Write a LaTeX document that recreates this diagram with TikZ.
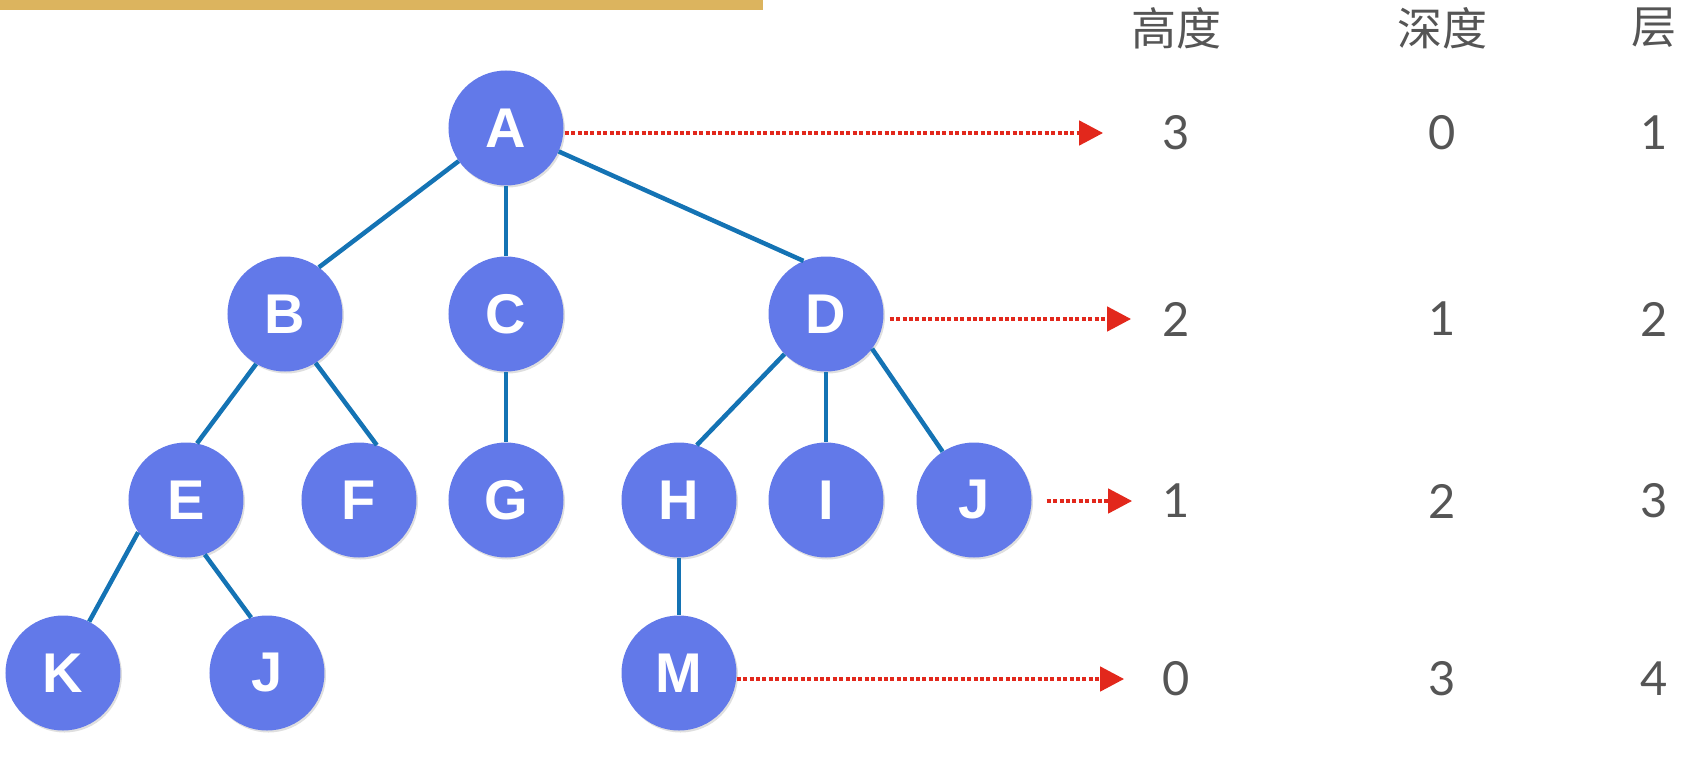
\documentclass[tikz,border=0pt]{standalone}
\usepackage{fontspec}
\setsansfont{Liberation Sans}
\newfontfamily\cjkfont{Noto Sans CJK SC}
\newfontfamily\numfont{Lato}
\usetikzlibrary{positioning,arrows.meta,shadows}
\definecolor{nodeblue}{RGB}{98,121,233}
\definecolor{edgeblue}{RGB}{20,115,180}
\definecolor{dotred}{RGB}{226,40,28}
\definecolor{bargold}{RGB}{220,180,94}
\definecolor{txtgray}{RGB}{85,85,85}

\begin{document}
\begin{tikzpicture}[node distance=186pt]
\tikzstyle{vertex} = [circle, minimum size=115pt, inner sep=0pt, fill=nodeblue, text=white, font=\sffamily\bfseries\fontsize{56}{56}\selectfont, drop shadow={opacity=0.25, shadow xshift=1.5pt, shadow yshift=-2pt}]
\tikzstyle{link} = [draw=edgeblue, line width=4.5pt]
\tikzstyle{num} = [inner sep=0pt, text=txtgray, font=\numfont\fontsize{47}{47}\selectfont]
\tikzstyle{head} = [inner sep=0pt, text=txtgray, font=\cjkfont\fontsize{45}{45}\selectfont]
\tikzstyle{dotarrow} = [draw=dotred, line width=4.5pt, dash pattern=on 4pt off 2.4pt, -{Triangle[length=24pt,width=24pt]}]

\useasboundingbox (-506pt,128pt) rectangle (1194pt,-640pt);
\fill [bargold] (-506pt,128pt) rectangle (257pt,118pt);

% the tree
\node (A) [vertex] {A};
\node (C) [vertex, below of=A] {C};
\node (B) [vertex, left of=C, xshift=-35pt] {B};
\node (D) [vertex, right of=C, xshift=134pt] {D};

\node (G) [vertex, below of=C] {G};
\node (F) [vertex, left of=G, xshift=39pt] {F};
\node (E) [vertex, left of=F, xshift=13pt] {E};
\node (H) [vertex, right of=G, xshift=-13pt] {H};
\node (I) [vertex, below of=D] {I};
\node (J) [vertex, right of=I, xshift=-38pt] {J};

\node (K) [vertex, below of=E, xshift=-123pt, yshift=13pt] {K};
\node (Jb) [vertex, right of=K, xshift=18pt] {J};
\node (M) [vertex, below of=H, yshift=13pt] {M};

\draw [link] (A.215) -- (B.54);
\draw [link] (A) -- (C);
\draw [link] (A.-24) -- (D.113);
\draw [link] (B.240) -- (E.79);
\draw [link] (B.-58) -- (F.72);
\draw [link] (C) -- (G);
\draw [link] (D.224) -- (H.72);
\draw [link] (D) -- (I);
\draw [link] (D.-37) -- (J.123);
\draw [link] (E.214) -- (K.63);
\draw [link] (E.-71) -- (Jb.106);
\draw [link] (H) -- (M);

% table on the right
\node (hhead) [head] at (670pt,100pt) {高度};
\node (dhead) [head] at (936pt,100pt) {深度};
\node (lhead) [head] at (1148pt,100pt) {层};

\node (ht1) [num] at (670pt,-5pt) {3};
\node (dp1) [num] at (936pt,-5pt) {0};
\node (lv1) [num] at (1148pt,-5pt) {1};
\node (ht2) [num] at (670pt,-191pt) {2};
\node (dp2) [num] at (936pt,-191pt) {1};
\node (lv2) [num] at (1148pt,-191pt) {2};
\node (ht3) [num] at (670pt,-373pt) {1};
\node (dp3) [num] at (936pt,-373pt) {2};
\node (lv3) [num] at (1148pt,-373pt) {3};
\node (ht4) [num] at (670pt,-551pt) {0};
\node (dp4) [num] at (936pt,-551pt) {3};
\node (lv4) [num] at (1148pt,-551pt) {4};

\draw [dotarrow, shorten <=1pt, shorten >=59pt] (A.east |- ht1) -- (ht1);
\draw [dotarrow, shorten <=6pt, shorten >=31pt] (D.east |- ht2) -- (ht2);
\draw [dotarrow, shorten <=15pt, shorten >=30pt] (J.east |- ht3) -- (ht3);
\draw [dotarrow, shorten >=38pt] (M.east |- ht4) -- (ht4);
\end{tikzpicture}
\end{document}
